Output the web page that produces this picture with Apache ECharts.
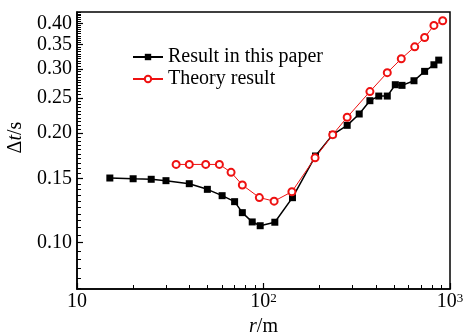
<!DOCTYPE html>
<html><head><meta charset="utf-8">
<script src="https://cdn.jsdelivr.net/npm/echarts@6/dist/echarts.min.js"></script>
<style>html,body{margin:0;padding:0;background:#fff}#c{width:472px;height:333px}</style>
</head><body><div id="c"></div>
<script>
// ---- data ----
const paperName = 'Result in this paper';
const theoryName = 'Theory result';
const paperR = [15, 20, 25, 30, 40, 50, 60, 70, 77, 87, 96, 115, 143, 190, 235, 281, 326, 372, 415, 461, 509, 553, 641, 731, 820, 870];
const paperT = [0.1505, 0.1498, 0.1493, 0.1480, 0.1452, 0.1401, 0.1346, 0.1296, 0.1209, 0.1140, 0.1113, 0.1138, 0.1329, 0.1730, 0.1980, 0.2100, 0.2256, 0.2454, 0.2527, 0.2527, 0.2715, 0.2704, 0.2784, 0.2954, 0.3080, 0.3172];
const theoryR = [34, 40, 49, 58, 67, 77, 95, 114, 142, 189, 235, 281, 372, 461, 548, 647, 731, 820, 914];
const theoryT = [0.164, 0.164, 0.164, 0.164, 0.156, 0.144, 0.133, 0.130, 0.138, 0.171, 0.198, 0.221, 0.260, 0.293, 0.320, 0.345, 0.366, 0.395, 0.407];
const xTickValues = [10, 100, 1000];
const yTickValues = [0.10, 0.15, 0.20, 0.25, 0.30, 0.35, 0.40];

// ---- minor tick positions ----
const xMinor = [];
[10, 100].forEach(d => { for (let k = 2; k <= 9; k++) xMinor.push(k * d); });
const yMinor = [];
for (let i = 15; i <= 86; i++) yMinor.push(+(i * 0.005).toFixed(3));

const F = 'Liberation Serif';
const zip = (a, b) => a.map((v, i) => [v, b[i]]);

const chart = echarts.init(document.getElementById('c'), null, {renderer: 'canvas'});
const axisLineStyle = {color: '#000', width: 1.5};
chart.setOption({
  animation: false,
  backgroundColor: '#fff',
  grid: {left: 77, right: 22, top: 12, bottom: 44, show: true, borderColor: '#000', borderWidth: 1.5, outerBoundsMode: 'none'},
  legend: {
    orient: 'vertical', left: 127, top: 42, itemWidth: 30, itemHeight: 8, itemGap: 2,
    selectedMode: false,
    textStyle: {fontFamily: F, fontSize: 20, color: '#000'},
    data: [paperName, theoryName]
  },
  xAxis: [
    {
      type: 'log', min: 10, max: 1000, position: 'bottom',
      axisLine: {lineStyle: axisLineStyle},
      axisTick: {inside: true, length: 6, customValues: xTickValues, lineStyle: {color: '#000', width: 1.2}},
      axisLabel: {
        customValues: xTickValues, margin: 3, color: '#000', fontFamily: F, fontSize: 20,
        formatter: v => v === 10 ? '10' : '10{sup|' + Math.round(Math.log10(v)) + '}',
        rich: {sup: {fontFamily: F, fontSize: 13, color: '#000', verticalAlign: 'top'}}
      },
      splitLine: {show: false},
      name: '{i|r}{n|/m}', nameLocation: 'middle', nameGap: 24,
      nameTextStyle: {fontFamily: F, fontSize: 20, color: '#000',
        rich: {i: {fontFamily: F, fontSize: 20, fontStyle: 'italic', color: '#000'}, n: {fontFamily: F, fontSize: 20, color: '#000'}}}
    },
    {
      type: 'log', min: 10, max: 1000, position: 'bottom',
      axisLine: {show: false},
      axisTick: {show: true, inside: true, length: 4, customValues: xMinor, lineStyle: {color: '#000', width: 1}},
      axisLabel: {show: false}, splitLine: {show: false}
    }
  ],
  yAxis: [
    {
      type: 'log', min: 0.0746, max: 0.43, position: 'left',
      axisLine: {show: true, lineStyle: axisLineStyle},
      axisTick: {show: true, inside: true, length: 6, customValues: yTickValues, lineStyle: {color: '#000', width: 1.2}},
      axisLabel: {customValues: yTickValues, margin: 5, color: '#000', fontFamily: F, fontSize: 20,
        formatter: v => v.toFixed(2)},
      splitLine: {show: false},
      name: '{n|Δ}{i|t}{n|/s}', nameLocation: 'middle', nameGap: 44,
      nameTextStyle: {fontFamily: F, fontSize: 20, color: '#000', padding: [0, 0, 0, 26],
        rich: {i: {fontFamily: F, fontSize: 20, fontStyle: 'italic', color: '#000'}, n: {fontFamily: F, fontSize: 20, color: '#000'}}}
    },
    {
      type: 'log', min: 0.0746, max: 0.43, position: 'left',
      axisLine: {show: false},
      axisTick: {show: true, inside: true, length: 4, customValues: yMinor, lineStyle: {color: '#000', width: 1}},
      axisLabel: {show: false}, splitLine: {show: false}
    }
  ],
  series: [
    {
      name: paperName, type: 'line', xAxisIndex: 0, yAxisIndex: 0,
      data: zip(paperR, paperT),
      symbol: 'rect', symbolSize: 7, showAllSymbol: true,
      itemStyle: {color: '#000'},
      lineStyle: {color: '#000', width: 1.5}
    },
    {
      name: theoryName, type: 'line', xAxisIndex: 0, yAxisIndex: 0,
      data: zip(theoryR, theoryT),
      symbol: 'emptyCircle', symbolSize: 7, showAllSymbol: true,
      itemStyle: {color: '#ee1111', borderWidth: 1},
      lineStyle: {color: '#ee1111', width: 1}
    }
  ]
});
</script></body></html>
